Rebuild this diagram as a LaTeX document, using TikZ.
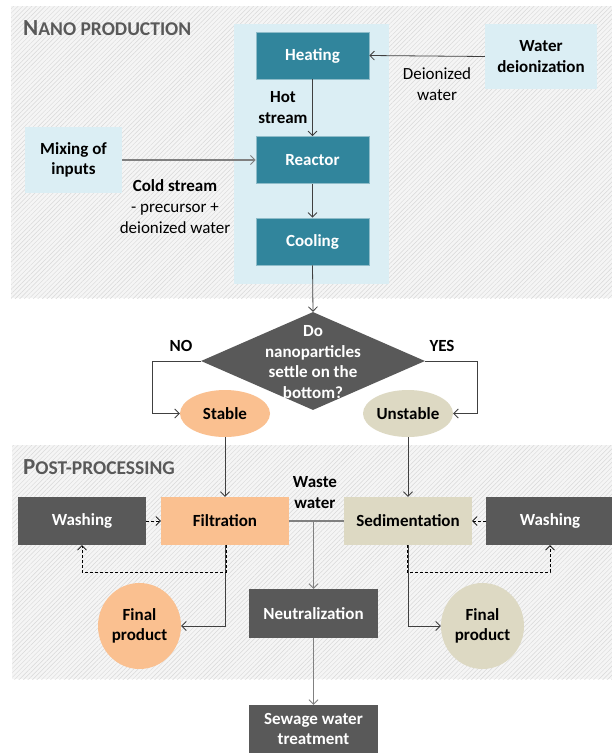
\documentclass[tikz,border=0pt]{standalone}
\usepackage{fontspec}
\setmainfont{Carlito}
\usetikzlibrary{arrows.meta,shapes.geometric,patterns.meta}
\definecolor{tealA}{HTML}{31859C}
\definecolor{lblue}{HTML}{DBEEF4}
\definecolor{dgray}{HTML}{595959}
\definecolor{orng}{HTML}{FAC090}
\definecolor{beigeA}{HTML}{DDD9C3}
\definecolor{panelbg}{HTML}{F5F5F5}
\definecolor{hatch}{HTML}{D8D8D8}
\definecolor{lnk}{HTML}{404040}
\definecolor{glnk}{HTML}{808080}
\tikzset{
  txt/.style={inner sep=0pt, align=center, font=\fontsize{17}{20.5}\selectfont\bfseries},
  rtxt/.style={inner sep=0pt, align=center, font=\fontsize{17}{21}\selectfont},
  tealbox/.style={txt, rectangle, fill=tealA, draw=tealA!55!white, line width=0.8pt, text=white, minimum width=113pt, minimum height=47pt},
  lbbox/.style={txt, rectangle, fill=lblue, text=black},
  dbox/.style={txt, rectangle, fill=dgray, text=white, minimum width=128pt, minimum height=48pt},
  obox/.style={txt, rectangle, fill=orng, text=black, minimum width=128pt, minimum height=48pt},
  bbox/.style={txt, rectangle, fill=beigeA, text=black, minimum width=128pt, minimum height=48pt},
  oell/.style={txt, ellipse, fill=orng, text=black},
  bell/.style={txt, ellipse, fill=beigeA, text=black},
  panel/.style={fill=panelbg, postaction={pattern={Lines[angle=45,distance=3.2pt,line width=0.45pt]}, pattern color=hatch}},
  arr/.style={draw=lnk, line width=0.8pt, -{Straight Barb[length=4.5pt,width=9pt,line width=0.8pt]}},
  garr/.style={draw=glnk, line width=1.1pt, -{Straight Barb[length=4.5pt,width=9pt,line width=0.9pt]}},
  gline/.style={draw=glnk, line width=1.1pt},
  line/.style={draw=lnk, line width=0.8pt},
  darr/.style={draw=black, line width=0.7pt, dash pattern=on 3pt off 2pt, -{Straight Barb[length=4.5pt,width=9pt,line width=0.7pt]}},
  dline/.style={draw=black, line width=0.7pt, dash pattern=on 3pt off 2pt},
  title/.style={inner sep=0pt, anchor=west, text=dgray, font=\bfseries}
}
\begin{document}
\begin{tikzpicture}[x=1pt,y=-1pt]
\useasboundingbox (0,0) rectangle (612,753);
\clip (0,0) rectangle (612,753);
\fill[white] (0,0) rectangle (612,753);
% panels
\path[panel] (11,6) rectangle (612,298);
\path[panel] (12,445) rectangle (612,679);
\fill[lblue] (234,24) rectangle (389,284);
% titles
\node[title] (t1) at (23,28) {\fontsize{23}{23}\selectfont N\fontsize{19.5}{19.5}\selectfont ANO PRODUCTION};
\node[title] (t2) at (23,467) {\fontsize{23}{23}\selectfont P\fontsize{19.5}{19.5}\selectfont OST-PROCESSING};
% top nodes
\node[tealbox] (heat) at (312.5,55.5) {Heating};
\node[tealbox] (reac) at (312.5,160) {Reactor};
\node[tealbox] (cool) at (312.5,241.5) {Cooling};
\node[lbbox, minimum width=112pt, minimum height=65pt] (wdei) at (541,56.5) {Water\\deionization};
\node[lbbox, minimum width=97pt, minimum height=66pt] (mix) at (73.5,160) {Mixing of\\inputs};
% decision
\node[diamond, fill=dgray, inner sep=0pt, minimum width=224pt, minimum height=98pt] (dec) at (313,361) {};
\node[txt, text=white] (dect) at (313,362) {Do\\nanoparticles\\settle on the\\bottom?};
\node[oell, minimum width=90pt, minimum height=47pt] (stab) at (225,413.5) {Stable};
\node[bell, minimum width=90pt, minimum height=47pt] (unst) at (408,413.5) {Unstable};
% post nodes
\node[dbox] (washL) at (82,521) {Washing};
\node[obox] (filt) at (225,521) {Filtration};
\node[bbox] (sed) at (408,521) {Sedimentation};
\node[dbox] (washR) at (550,521) {Washing};
\node[oell, minimum width=83pt, minimum height=86pt] (finL) at (139.5,626) {Final\\product};
\node[bell, minimum width=83pt, minimum height=86pt] (finR) at (482.5,626) {Final\\product};
\node[dbox, minimum width=129pt, minimum height=49pt] (neut) at (313.5,613.5) {Neutralization};
\node[dbox, minimum width=129pt, minimum height=48pt] (sew) at (313.5,729) {Sewage water\\treatment};
% labels
\node[txt] (hot) at (283,107.5) {Hot\\stream};
\node[rtxt] (cold) at (175,207) {\textbf{Cold stream}\\- precursor +\\deionized water};
\node[rtxt] (dw) at (437,84.5) {Deionized\\water};
\node[txt] (no) at (181,346) {NO};
\node[txt] (yes) at (442,346) {YES};
\node[txt] (waste) at (315,492.5) {Waste\\water};
% connectors top
\draw[arr] (wdei.west) -- (heat.east);
\draw[arr] (heat.south) -- (reac.north);
\draw[garr] (mix.east) -- (reac.west);
\draw[arr] (reac.south) -- (cool.north);
\draw[arr] (cool.south) -- (dec.north);
\draw[arr] (dec.west) -- ++(-48,0) |- (stab.west);
\draw[arr] (dec.east) -- ++(52,0) |- (unst.east);
\draw[arr] (stab.south) -- (filt.north);
\draw[arr] (unst.south) -- (sed.north);
% post connectors
\draw[darr] (washL.east) -- (filt.west);
\draw[darr] (washR.west) -- (sed.east);
\draw[gline] (filt.east) -- (sed.west);
\coordinate (jn) at (313.5,521);
\draw[garr] (jn) -- (neut.north);
\draw[garr] (neut.south) -- (sew.north);
\draw[arr] (filt.south) |- (finL.east);
\draw[arr] (sed.south) |- (finR.west);
\draw[darr] ([xshift=1pt]filt.south) -- ++(0,27) -| (washL.south);
\draw[darr] ([xshift=-1pt]sed.south) -- ++(0,27) -| (washR.south);
\end{tikzpicture}
\end{document}
